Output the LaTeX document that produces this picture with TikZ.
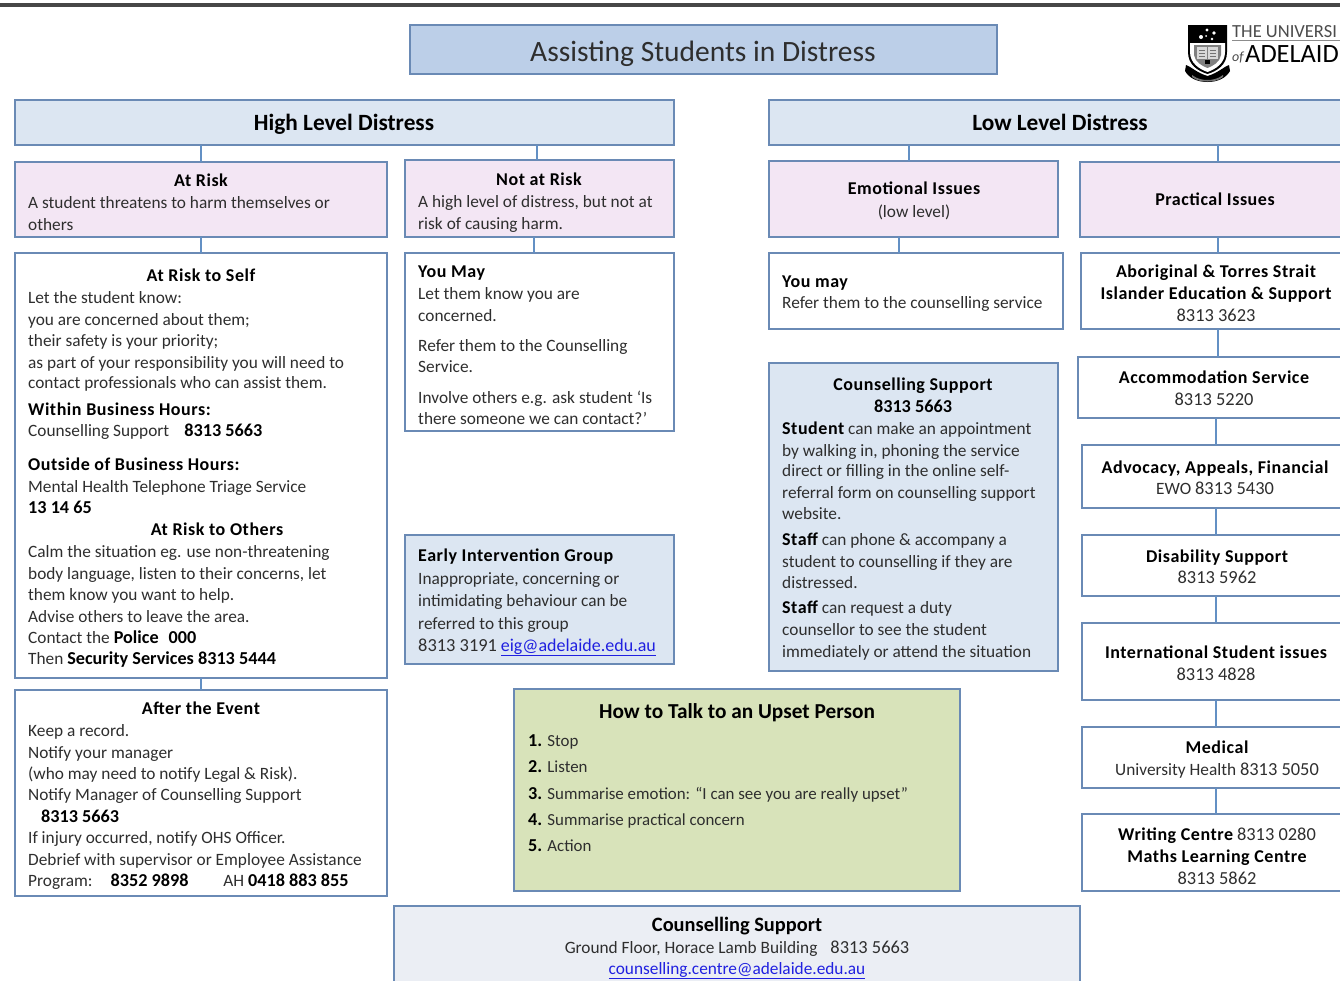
\documentclass[tikz,border=0pt]{standalone}
\usepackage{fontspec}
\setmainfont{Carlito}
\newfontfamily\bspfam[LetterSpace=3]{Carlito}
\newcounter{tl}
\definecolor{edgeblue}{HTML}{6A8AB5}
\definecolor{wireblue}{HTML}{6390C4}
\definecolor{titlefill}{HTML}{BCCFE8}
\definecolor{headfill}{HTML}{DCE6F2}
\definecolor{pinkfill}{HTML}{F3E6F4}
\definecolor{greenfill}{HTML}{D8E3BA}
\definecolor{greyfill}{HTML}{EBEEF4}
\definecolor{txt}{HTML}{2E2E2E}
\definecolor{linkblue}{HTML}{2020E0}
\tikzset{
 boxbase/.style={draw=edgeblue,line width=1.8pt,rectangle,inner sep=0pt,outer sep=0pt,anchor=north west},
 wire/.style={draw=wireblue,line width=2.8pt},
 ltext/.style={anchor=base west,inner sep=0pt,text=txt,font=\fontsize{17.3}{20}\selectfont},
 ctext/.style={ltext,anchor=base},
 talktext/.style={ltext,font=\fontsize{16.9}{20}\selectfont},
 logotext/.style={anchor=base west,inner sep=0pt},
}
\newcommand{\mybox}[6]{% name, x0,y0,x1,y1, fill
 \pgfmathsetmacro{\bw}{#4-#2}\pgfmathsetmacro{\bh}{#5-#3}
 \node[boxbase,fill=#6,minimum width=\bw pt,minimum height=\bh pt] (#1) at (#2,#3) {};}
\newcommand{\TL}[3]{\stepcounter{tl}\node[ltext] (t\thetl) at (#1,#2) {#3};}
\newcommand{\TC}[3]{\stepcounter{tl}\node[ctext] (t\thetl) at (#1,#2) {#3};}
\newcommand{\TT}[3]{\stepcounter{tl}\node[talktext] (t\thetl) at (#1,#2) {#3};}
\newcommand{\B}[1]{{\bspfam\bfseries\fontsize{18}{20}\selectfont\color{black}#1}}
\newcommand{\BN}[1]{{\bfseries\fontsize{18.2}{20}\selectfont\color{black}#1}}
\newcommand{\DN}[1]{{\fontsize{18.4}{20}\selectfont #1}}
\newcommand{\lnk}[1]{\textcolor{linkblue}{\underline{#1}}}
\begin{document}
\begin{tikzpicture}[x=1pt,y=-1pt]
\useasboundingbox (0,0) rectangle (1340,980);
\clip (0,0) rectangle (1340,980);
\fill[white] (0,0) rectangle (1340,980);
\fill[black!72] (0,3) rectangle (1340,6.5);
% boxes
\mybox{title}{410}{25}{997}{74}{titlefill}
\mybox{high}{15}{100}{674}{145}{headfill}
\mybox{low}{769}{100}{1350}{145}{headfill}
\mybox{atrisk}{15}{162}{387}{237}{pinkfill}
\mybox{notrisk}{405}{160}{674}{237}{pinkfill}
\mybox{emo}{769}{161}{1058}{237}{pinkfill}
\mybox{prac}{1080}{162}{1350}{237}{pinkfill}
\mybox{self}{15}{253}{387}{678}{white}
\mybox{youmay}{405}{253}{674}{431}{white}
\mybox{youmayb}{769}{253}{1063}{329}{white}
\mybox{couns}{769}{363}{1058}{671}{headfill}
\mybox{eig}{405}{535}{674}{664}{headfill}
\mybox{after}{15}{690}{387}{896}{white}
\mybox{talk}{514}{689}{960}{891}{greenfill}
\mybox{foot}{394}{906}{1080}{990}{greyfill}
\mybox{abor}{1081}{253}{1350}{329}{white}
\mybox{accom}{1078}{357}{1350}{418}{white}
\mybox{advo}{1082}{445}{1350}{508}{white}
\mybox{disab}{1082}{535}{1350}{596}{white}
\mybox{inter}{1082}{623}{1350}{700}{white}
\mybox{medi}{1082}{727}{1350}{788}{white}
\mybox{writ}{1082}{814}{1350}{891}{white}
% connectors
\coordinate (hx) at (201,0);
\coordinate (nrt) at (537,0);
\coordinate (nrb) at (534,0);
\coordinate (emt) at (909,0);
\coordinate (emb) at (899,0);
\coordinate (prt) at (1218,0);
\coordinate (rgt) at (1216,0);
\draw[wire] (hx |- high.south) -- (hx |- atrisk.north);
\draw[wire] (nrt |- high.south) -- (nrt |- notrisk.north);
\draw[wire] (emt |- low.south) -- (emt |- emo.north);
\draw[wire] (prt |- low.south) -- (prt |- prac.north);
\draw[wire] (hx |- atrisk.south) -- (hx |- self.north);
\draw[wire] (nrb |- notrisk.south) -- (nrb |- youmay.north);
\draw[wire] (emb |- emo.south) -- (emb |- youmayb.north);
\draw[wire] (prt |- prac.south) -- (prt |- abor.north);
\draw[wire] (prt |- abor.south) -- (prt |- accom.north);
\draw[wire] (rgt |- accom.south) -- (rgt |- advo.north);
\draw[wire] (rgt |- advo.south) -- (rgt |- disab.north);
\draw[wire] (rgt |- disab.south) -- (rgt |- inter.north);
\draw[wire] (rgt |- inter.south) -- (rgt |- medi.north);
\draw[wire] (rgt |- medi.south) -- (rgt |- writ.north);
\draw[wire] (hx |- self.south) -- (hx |- after.north);
% title
\TC{703}{61}{\fontsize{29.5}{32}\selectfont Assisting Students in Distress}
\TC{344}{130.5}{\fontsize{23.3}{26}\selectfont\bfseries\color{black} High Level Distress}
\TC{1060}{130.5}{\fontsize{23.3}{26}\selectfont\bfseries\color{black} Low Level Distress}
% At risk
\TC{201}{186.5}{\B{At Risk}}
\TL{28}{208}{A student threatens to harm themselves or}
\TL{28}{230}{others}
% Not at risk
\TC{539}{185.5}{\B{Not at Risk}}
\TL{418}{207}{A high level of distress, but not at}
\TL{418}{229}{risk of causing harm.}
% Emotional
\TC{914}{194.5}{\B{Emotional Issues}}
\TC{914}{217}{(low level)}
\TC{1215}{205.5}{\B{Practical Issues}}
% self
\TC{201}{281.5}{\B{At Risk to Self}}
\TL{28}{303}{Let the student know:}
\TL{28}{325}{you are concerned about them;}
\TL{28}{346}{their safety is your priority;}
\TL{28}{368}{as part of your responsibility you will need to}
\TL{28}{388}{contact professionals who can assist them.}
\TL{28}{415}{\B{Within Business Hours:}}
\TL{28}{436.5}{Counselling Support\hspace{15pt}\BN{8313 5663}}
\TL{28}{470}{\B{Outside of Business Hours:}}
\TL{28}{492}{Mental Health Telephone Triage Service}
\TL{28}{513}{\BN{13 14 65}}
\TC{217}{535}{\B{At Risk to Others}}
\TL{28}{557}{Calm the situation eg. use non-threatening}
\TL{28}{579}{body language, listen to their concerns, let}
\TL{28}{600}{them know you want to help.}
\TL{28}{622}{Advise others to leave the area.}
\TL{28}{643}{Contact the \BN{Police}\hspace{10pt}\BN{000}}
\TL{28}{664}{Then \BN{Security Services 8313 5444}}
% after
\TC{201}{714.5}{\B{After the Event}}
\TL{28}{736}{Keep a record.}
\TL{28}{758}{Notify your manager}
\TL{28}{779}{(who may need to notify Legal \& Risk).}
\TL{28}{800}{Notify Manager of Counselling Support}
\TL{41}{822}{\BN{8313 5663}}
\TL{28}{843}{If injury occurred, notify OHS Officer.}
\TL{28}{865}{Debrief with supervisor or Employee Assistance}
\TL{28}{886}{Program:\hspace{18pt}\BN{8352 9898}\hspace{35pt}AH \BN{0418 883 855}}
% you may
\TL{418}{277.5}{\B{You May}}
\TL{418}{299}{Let them know you are}
\TL{418}{321}{concerned.}
\TL{418}{351}{Refer them to the Counselling}
\TL{418}{372}{Service.}
\TL{418}{403}{Involve others e.g. ask student ‘Is}
\TL{418}{424}{there someone we can contact?’}
% EIG
\TL{418}{561.5}{\B{Early Intervention Group}}
\TL{418}{584}{Inappropriate, concerning or}
\TL{418}{606}{intimidating behaviour can be}
\TL{418}{629}{referred to this group}
\TL{418}{651}{\DN{8313 3191} \fontsize{18}{20}\selectfont\lnk{eig@adelaide.edu.au}}
% you may b
\TL{782}{287}{\B{You may}}
\TL{782}{308}{Refer them to the counselling service}
% counselling
\TC{913}{390.5}{\B{Counselling Support}}
\TC{913}{412.5}{\BN{8313 5663}}
\TL{782}{434}{\B{Student} can make an appointment}
\TL{782}{456}{by walking in, phoning the service}
\TL{782}{476}{direct or filling in the online self-}
\TL{782}{498}{referral form on counselling support}
\TL{782}{519}{website.}
\TL{782}{545}{\B{Staff} can phone \& accompany a}
\TL{782}{567}{student to counselling if they are}
\TL{782}{588}{distressed.}
\TL{782}{613}{\B{Staff} can request a duty}
\TL{782}{635}{counsellor to see the student}
\TL{782}{657}{immediately or attend the situation}
% talk
\TC{737}{718.5}{\fontsize{21.3}{24}\selectfont\bfseries\color{black} How to Talk to an Upset Person}
\TT{528}{746}{\BN{1.} Stop}
\TT{528}{772}{\BN{2.} Listen}
\TT{528}{799}{\BN{3.} Summarise emotion: “I can see you are really upset”}
\TT{528}{825}{\BN{4.} Summarise practical concern}
\TT{528}{851}{\BN{5.} Action}
% foot
\TC{737}{931.5}{\fontsize{20.4}{23}\selectfont\bfseries\color{black} Counselling Support}
\TC{737}{953}{{\fontsize{17.3}{20}\selectfont Ground Floor, Horace Lamb Building}\hspace{13pt}\DN{8313 5663}}
\TC{737}{974}{\lnk{counselling.centre@adelaide.edu.au}}
% right col
\TC{1216}{277.5}{\B{Aboriginal \& Torres Strait}}
\TC{1216}{299.5}{\B{Islander Education \& Support}}
\TC{1216}{321}{\DN{8313 3623}}
\TC{1214}{383.5}{\B{Accommodation Service}}
\TC{1214}{405}{\DN{8313 5220}}
\TC{1215}{473.5}{\B{Advocacy, Appeals, Financial}}
\TC{1215}{494}{EWO \DN{8313 5430}}
\TC{1217}{562.5}{\B{Disability Support}}
\TC{1217}{583}{\DN{8313 5962}}
\TC{1216}{658.5}{\B{International Student issues}}
\TC{1216}{680}{\DN{8313 4828}}
\TC{1217}{753.5}{\B{Medical}}
\TC{1217}{775}{University Health \DN{8313 5050}}
\TC{1217}{840}{\B{Writing Centre} \DN{8313 0280}}
\TC{1217}{862.5}{\B{Maths Learning Centre}}
\TC{1217}{884}{\DN{8313 5862}}
% logo: shield, stars, book, scroll
\fill[black] (1188,25) -- (1227,25) -- (1227,52) .. controls (1227,65) and (1217,71) .. (1207.5,74) .. controls (1198,71) and (1188,65) .. (1188,52) -- cycle;
\fill[white] (1190,43) -- (1225,43) -- (1225,52) .. controls (1225,63) and (1216,69) .. (1207.5,72) .. controls (1199,69) and (1190,63) .. (1190,52) -- cycle;
\fill[black!50] (1194,45) -- (1221,45) -- (1221,55) .. controls (1220,62) and (1213,66) .. (1207.5,68) .. controls (1202,66) and (1195,62) .. (1194,55) -- cycle;
\fill[black!15] (1197,47) rectangle (1207,59);
\fill[black!15] (1208,47) rectangle (1218,59);
\draw[black!55,line width=.5pt] (1199,50) -- (1205,50) (1199,53) -- (1205,53) (1199,56) -- (1205,56) (1210,50) -- (1216,50) (1210,53) -- (1216,53) (1210,56) -- (1216,56);
\fill[black] (1205,60) rectangle (1210,64);
\fill[white] (1207,30) circle (1.6) (1214,33) circle (1.8) (1201,37) circle (2) (1212,39) circle (1.3) (1206,36) circle (1);
\fill[black] (1186,65) .. controls (1190,66) and (1197,73) .. (1207.5,76) .. controls (1218,73) and (1225,66) .. (1229,65) -- (1230,71) .. controls (1226,78) and (1218,82) .. (1207.5,82) .. controls (1197,82) and (1189,78) .. (1185,71) -- cycle;
\fill[black!55] (1192,75) .. controls (1197,79) and (1203,80) .. (1207.5,80) .. controls (1212,80) and (1218,79) .. (1223,75) -- (1223,77) .. controls (1218,81) and (1212,81.5) .. (1207.5,81.5) .. controls (1203,81.5) and (1197,81) .. (1192,77) -- cycle;
\node[logotext,text=black!70,font=\fontsize{18.5}{20}\selectfont] (logoa) at (1232,37) {THE UNIVERSI};
\draw[black!45,line width=.5pt] (1232,40) -- (1340,40);
\node[logotext,text=black!70,font=\fontsize{14}{16}\selectfont\itshape] (logob) at (1232,61) {of};
\node[logotext,text=black,font=\fontsize{26.4}{30}\selectfont] (logoc) at (1245,62.5) {ADELAID};
\end{tikzpicture}
\end{document}
